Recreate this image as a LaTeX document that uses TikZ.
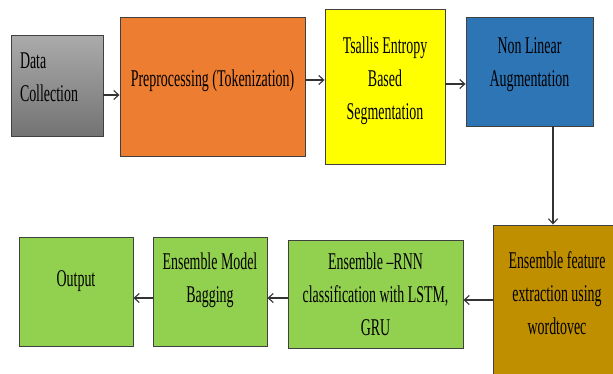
\documentclass[tikz,border=0pt]{standalone}
\usepackage{fontspec}
\setmainfont[FakeStretch=0.58]{Liberation Serif}
\usetikzlibrary{arrows.meta}

\definecolor{boxgray}{HTML}{8C8C8C}
\definecolor{boxorange}{HTML}{ED7D31}
\definecolor{boxyellow}{HTML}{FFFF00}
\definecolor{boxblue}{HTML}{2E75B6}
\definecolor{boxgold}{HTML}{BF8F00}
\definecolor{boxgreen}{HTML}{92D050}

\begin{document}
\begin{tikzpicture}[x=1pt,y=-1pt]
\tikzset{stage/.style = {draw=black!75, line width=0.9pt, align=center, inner sep=0pt,
    font=\fontsize{24}{33}\selectfont},
  flow/.style = {draw=black!80, line width=1.1pt, -{Straight Barb[length=5pt,width=9pt]}}}
\useasboundingbox[fill=white] (0,0) rectangle (613,374);

% top row, left to right
\node[stage, top color=black!33, bottom color=black!55, minimum width=92, minimum height=101,
  text width=74, align=left, text depth=50] (dc) at (57,86) {Data\\Collection};
\node[stage, fill=boxorange, minimum width=185, minimum height=139, text depth=17] (prep) at (212.5,86.5) {Preprocessing (Tokenization)};
\node[stage, fill=boxyellow, minimum width=120, minimum height=155, text depth=17] (tsal) at (385,86.5) {Tsallis Entropy\\Based\\Segmentation};
\node[stage, fill=boxblue, minimum width=127, minimum height=109, text depth=19] (nonlin) at (529.5,71.5) {Non Linear\\Augmentation};

% bottom row, right to left
\node[stage, fill=boxgold, minimum width=128, minimum height=150, text depth=14] (feat) at (557,300) {Ensemble feature\\extraction using\\wordtovec};
\node[stage, fill=boxgreen, minimum width=175, minimum height=108] (rnn) at (375.5,294) {Ensemble \textendash RNN\\classification with LSTM,\\GRU};
\node[stage, fill=boxgreen, minimum width=114, minimum height=109, text depth=27] (bag) at (210,291.5) {Ensemble Model\\Bagging};
\node[stage, fill=boxgreen, minimum width=114, minimum height=109, text depth=25] (out) at (76,291.5) {Output};

\draw[flow] ([yshift=-9pt]dc.east) -- ([yshift=-9pt]dc.east -| prep.west);
\draw[flow] ([yshift=6.5pt]prep.east) -- ([yshift=6.5pt]prep.east -| tsal.west);
\draw[flow] ([yshift=2.5pt]tsal.east) -- ([yshift=2.5pt]tsal.east -| nonlin.west);
\draw[flow] ([xshift=23.5pt]nonlin.south) -- ([xshift=23.5pt]nonlin.south |- feat.north);
\draw[flow] (feat.west) -- (feat.west -| rnn.east);
\draw[flow] ([yshift=-4pt]rnn.west) -- ([yshift=-4pt]rnn.west -| bag.east);
\draw[flow] ([yshift=-6.5pt]bag.west) -- ([yshift=-6.5pt]bag.west -| out.east);
\end{tikzpicture}
\end{document}
